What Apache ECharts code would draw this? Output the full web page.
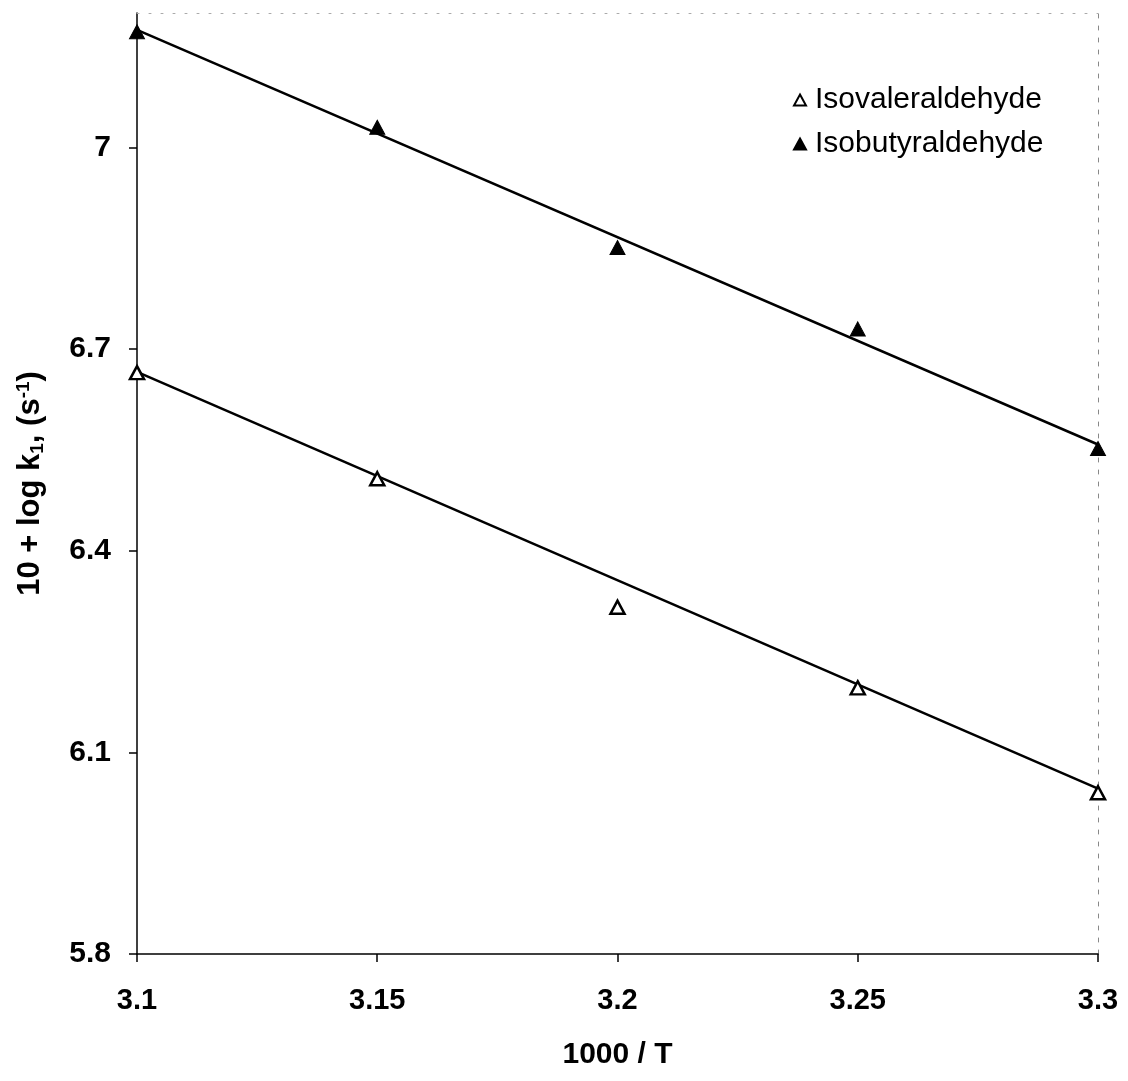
<!DOCTYPE html>
<html>
<head>
<meta charset="utf-8">
<script src="https://cdn.jsdelivr.net/npm/echarts@6/dist/echarts.min.js"></script>
<style>
html,body{margin:0;padding:0;background:#fff;}
#chart{width:1128px;height:1081px;}
</style>
</head>
<body>
<div id="chart"></div>
<script>
// ---- data ----
var xValues = [3.1, 3.15, 3.2, 3.25, 3.3];
var isovaleraldehyde = [6.665, 6.507, 6.316, 6.196, 6.04];
var isobutyraldehyde = [7.172, 7.03, 6.851, 6.73, 6.552];
// fitted straight lines (end points)
var fitX = [3.1, 3.3];
var isovalFit = [6.666, 6.046];
var isobutFit = [7.175, 6.558];
// tick labels
var xTicks = [3.1, 3.15, 3.2, 3.25, 3.3];
var yTicks = [5.8, 6.1, 6.4, 6.7, 7.0];

function pairs(xs, ys){ return xs.map(function(x,i){ return [x, ys[i]]; }); }

var FONT = '"Liberation Sans", Arial, sans-serif';
var chart = echarts.init(document.getElementById('chart'), null, {renderer:'canvas'});
chart.setOption({
  animation:false,
  backgroundColor:'#fff',
  grid:{left:137, right:30, top:13, bottom:127, containLabel:false},
  xAxis:[{
    type:'value', min:3.1, max:3.3, interval:0.05,
    name:'1000 / T', nameLocation:'middle', nameGap:86,
    nameTextStyle:{fontFamily:FONT, fontSize:30, fontWeight:'bold', color:'#000'},
    axisLine:{show:true, onZero:false, lineStyle:{color:'#000', width:1.5}},
    axisTick:{show:true, length:8, customValues:xTicks, lineStyle:{color:'#000', width:1.5}},
    axisLabel:{customValues:xTicks, margin:32, fontFamily:FONT, fontSize:29, fontWeight:'bold', color:'#000'},
    splitLine:{show:false}
  },{
    type:'value', position:'top', min:3.1, max:3.3,
    axisLine:{show:true, onZero:false, lineStyle:{color:'#aaa', width:1, type:[2,10]}},
    axisTick:{show:false}, axisLabel:{show:false}, splitLine:{show:false}
  }],
  yAxis:[{
    type:'value', min:5.8, max:7.2,
    name:'10 + log k{sub|1}, (s{sup|-1})', nameLocation:'middle', nameGap:90,
    nameTextStyle:{fontFamily:FONT, fontSize:31, fontWeight:'bold', color:'#000',
      rich:{
        sub:{fontFamily:FONT, fontSize:19, fontWeight:'bold', color:'#000', verticalAlign:'bottom', padding:[12,0,0,0]},
        sup:{fontFamily:FONT, fontSize:19, fontWeight:'bold', color:'#000', verticalAlign:'top', padding:[0,0,14,0]}
      }},
    axisLine:{show:true, onZero:false, lineStyle:{color:'#000', width:1.5}},
    axisTick:{show:true, length:8, customValues:yTicks, lineStyle:{color:'#000', width:1.5}},
    axisLabel:{customValues:yTicks, margin:26, fontFamily:FONT, fontSize:30, fontWeight:'bold', color:'#000'},
    splitLine:{show:false}
  },{
    type:'value', position:'right', min:5.8, max:7.2,
    axisLine:{show:true, onZero:false, lineStyle:{color:'#888', width:1, type:[4,8]}},
    axisTick:{show:false}, axisLabel:{show:false}, splitLine:{show:false}
  }],
  legend:{
    data:['Isovaleraldehyde','Isobutyraldehyde'],
    orient:'vertical', left:788, top:80, itemGap:14,
    itemWidth:12, itemHeight:11,
    textStyle:{fontFamily:FONT, fontSize:30, color:'#000', padding:[0,0,0,4]}
  },
  series:[
    {name:'isovalFit', type:'line', data:pairs(fitX, isovalFit), symbol:'none',
     lineStyle:{color:'#000', width:2.5}, z:2, silent:true},
    {name:'isobutFit', type:'line', data:pairs(fitX, isobutFit), symbol:'none',
     lineStyle:{color:'#000', width:2.5}, z:2, silent:true},
    {name:'Isovaleraldehyde', type:'scatter', data:pairs(xValues, isovaleraldehyde),
     symbol:'triangle', symbolSize:[14,13],
     itemStyle:{color:'#fff', borderColor:'#000', borderWidth:2.5, opacity:1}, z:3},
    {name:'Isobutyraldehyde', type:'scatter', data:pairs(xValues, isobutyraldehyde),
     symbol:'triangle', symbolSize:[15,14],
     itemStyle:{color:'#000', borderColor:'#000', borderWidth:1, opacity:1}, z:3}
  ]
});
</script>
</body>
</html>
